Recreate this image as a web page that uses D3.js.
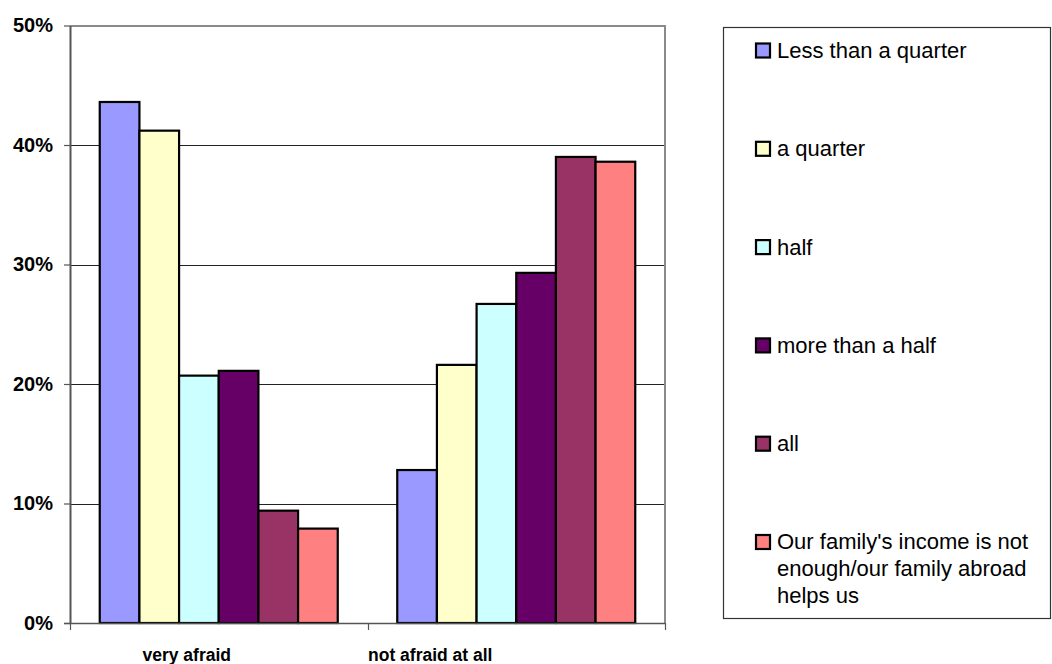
<!DOCTYPE html>
<html>
<head>
<meta charset="utf-8">
<script src="https://cdn.jsdelivr.net/npm/d3@7"></script>
<style>
  html, body { margin: 0; padding: 0; background: #fff; }
  svg { display: block; font-family: "Liberation Sans", Arial, sans-serif; }
</style>
</head>
<body>
<svg id="chart" width="1052" height="664"></svg>
<script>
// Answer groups on the category axis
const categories = ["very afraid", "not afraid at all"];

// Share of household income coming from family abroad (legend series)
const seriesNames = [
  "Less than a quarter",
  "a quarter",
  "half",
  "more than a half",
  "all",
  "Our family's income is not enough/our family abroad helps us"
];

// Percent of respondents, one array per category (series order as above)
const veryAfraid = [43.6, 41.2, 20.7, 21.1, 9.4, 7.9];
const notAfraidAtAll = [12.8, 21.6, 26.7, 29.3, 39.0, 38.6];

const yTicks = [0, 10, 20, 30, 40, 50];
const yTickLabels = ["0%", "10%", "20%", "30%", "40%", "50%"];

const seriesColors = ["#9999FF", "#FFFFCC", "#CCFFFF", "#660066", "#993366", "#FF8080"];

// Table built from the arrays above
const table = categories.map((c, i) => ({
  category: c,
  values: (i === 0 ? veryAfraid : notAfraidAtAll).map((v, j) => ({ series: j, value: v }))
}));

const svg = d3.select("#chart");

const plot = { left: 70, right: 665, top: 25.5, bottom: 623 };

const x0 = d3.scaleBand()
  .domain(categories)
  .range([plot.left, plot.right])
  .paddingInner(0)
  .paddingOuter(0);

// 150% gap between clusters, split evenly on each side
const gapWidth = 1.5;
const barW = x0.bandwidth() / (seriesNames.length + gapWidth);
const sidePad = barW * gapWidth / 2;

const x1 = d3.scaleBand()
  .domain(d3.range(seriesNames.length))
  .range([sidePad, x0.bandwidth() - sidePad])
  .padding(0);

const y = d3.scaleLinear()
  .domain([0, 50])
  .range([plot.bottom, plot.top]);

// Horizontal gridlines
svg.append("g")
  .selectAll("line")
  .data(yTicks.filter(t => t > 0 && t < 50))
  .join("line")
  .attr("x1", plot.left)
  .attr("x2", plot.right)
  .attr("y1", d => Math.round(y(d)) + 0.5)
  .attr("y2", d => Math.round(y(d)) + 0.5)
  .attr("stroke", "#222")
  .attr("stroke-width", 1);

// Plot area frame (top and right)
svg.append("path")
  .attr("d", `M${plot.left},${plot.top + 0.5} H${plot.right} V${plot.bottom}`)
  .attr("fill", "none")
  .attr("stroke", "#8a8a8a")
  .attr("stroke-width", 2);

// Bars
const groups = svg.append("g")
  .selectAll("g")
  .data(table)
  .join("g")
  .attr("transform", d => `translate(${x0(d.category)},0)`);

groups.selectAll("rect")
  .data(d => d.values)
  .join("rect")
  .attr("x", d => x1(d.series))
  .attr("width", x1.bandwidth())
  .attr("y", d => y(d.value))
  .attr("height", d => y(0) - y(d.value))
  .attr("fill", d => seriesColors[d.series])
  .attr("stroke", "#000")
  .attr("stroke-width", 2.2);

// Y axis
const yAxis = d3.axisLeft(y)
  .tickValues(yTicks)
  .tickFormat((d, i) => yTickLabels[i])
  .tickSizeInner(6)
  .tickSizeOuter(0)
  .tickPadding(11);

const gy = svg.append("g")
  .attr("transform", `translate(${plot.left},0)`)
  .call(yAxis);
gy.select(".domain").attr("stroke", "#555").attr("stroke-width", 2);
gy.selectAll(".tick line").attr("stroke", "#555").attr("stroke-width", 1.2);
gy.selectAll(".tick text")
  .attr("font-size", 20)
  .attr("font-weight", "bold")
  .attr("fill", "#000")
  .style("font-family", "'Liberation Sans', Arial, sans-serif");

// X axis: baseline and cluster boundary ticks
const boundaries = [plot.left, ...categories.map(c => x0(c) + x0.bandwidth())];
const gx = svg.append("g");
gx.append("line")
  .attr("x1", plot.left - 6)
  .attr("x2", plot.right)
  .attr("y1", plot.bottom + 0.5)
  .attr("y2", plot.bottom + 0.5)
  .attr("stroke", "#555")
  .attr("stroke-width", 1.5);
gx.selectAll("line.tick")
  .data(boundaries)
  .join("line")
  .attr("class", "tick")
  .attr("x1", d => Math.round(d) + 0.5)
  .attr("x2", d => Math.round(d) + 0.5)
  .attr("y1", plot.bottom)
  .attr("y2", plot.bottom + 7)
  .attr("stroke", "#555")
  .attr("stroke-width", 1.2);

// Category labels, shifted within each cluster band
const labelShift = [-32, -86];
gx.selectAll("text")
  .data(categories)
  .join("text")
  .attr("x", (d, i) => x0(d) + x0.bandwidth() / 2 + labelShift[i])
  .attr("y", 661)
  .attr("text-anchor", "middle")
  .attr("font-size", 17.5)
  .attr("font-weight", "bold")
  .attr("fill", "#000")
  .text(d => d);

// Legend
const legend = { x: 723, y: 27, w: 327, h: 591 };
svg.append("rect")
  .attr("x", legend.x + 0.5)
  .attr("y", legend.y + 0.5)
  .attr("width", legend.w)
  .attr("height", legend.h)
  .attr("fill", "#fff")
  .attr("stroke", "#333")
  .attr("stroke-width", 1.2);

const legendStep = 98.3;
const legendLines = [
  ["Less than a quarter"],
  ["a quarter"],
  ["half"],
  ["more than a half"],
  ["all"],
  ["Our family's income is not", "enough/our family abroad", "helps us"]
];

const items = svg.append("g")
  .selectAll("g")
  .data(seriesNames)
  .join("g")
  .attr("transform", (d, i) => `translate(756,${50 + i * legendStep})`);

items.append("rect")
  .attr("x", 0)
  .attr("y", -6.5)
  .attr("width", 14)
  .attr("height", 14)
  .attr("fill", (d, i) => seriesColors[i])
  .attr("stroke", "#000")
  .attr("stroke-width", 2.2);

items.append("text")
  .attr("x", 21)
  .attr("y", 0)
  .attr("font-size", 22)
  .attr("fill", "#000")
  .selectAll("tspan")
  .data((d, i) => legendLines[i])
  .join("tspan")
  .attr("x", 21)
  .attr("dy", (d, j) => j === 0 ? "0.36em" : "1.22em")
  .text(d => d);
</script>
</body>
</html>
